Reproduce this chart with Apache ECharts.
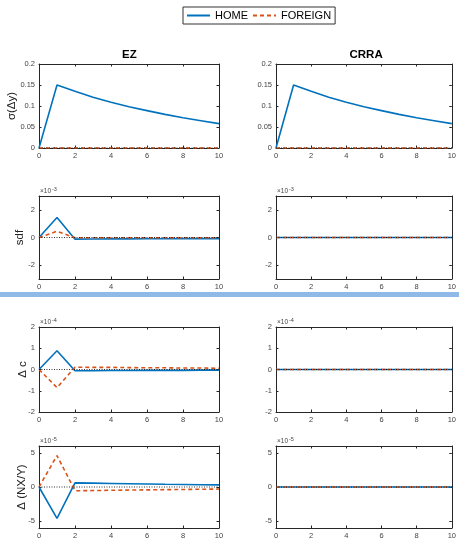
<!DOCTYPE html>
<html><head><meta charset="utf-8">
<script src="https://cdn.jsdelivr.net/npm/echarts@6/dist/echarts.min.js"></script>
<style>html,body{margin:0;padding:0;background:#fff}#c{width:459px;height:540px}</style>
</head><body><div id="c"></div>
<script>
// horizon
const t = [0,1,2,3,4,5,6,7,8,9,10];
// row 1: sigma(Delta y)
const sigmaHomeEZ    = [0,0.150,0.135,0.121,0.109,0.098,0.089,0.080,0.072,0.065,0.058];
const sigmaForeignEZ = [0,0,0,0,0,0,0,0,0,0,0];
const sigmaHomeCRRA    = [0,0.150,0.135,0.121,0.109,0.098,0.089,0.080,0.072,0.065,0.058];
const sigmaForeignCRRA = [0,0,0,0,0,0,0,0,0,0,0];
// row 2: sdf (x 10^-3)
const sdfHomeEZ    = [0,1.45,-0.12,-0.11,-0.10,-0.10,-0.09,-0.09,-0.08,-0.08,-0.08];
const sdfForeignEZ = [0,0.45,-0.02,-0.02,-0.02,-0.02,-0.02,-0.02,-0.02,-0.02,-0.02];
const sdfHomeCRRA    = [0,0,0,0,0,0,0,0,0,0,0];
const sdfForeignCRRA = [0,0,0,0,0,0,0,0,0,0,0];
// row 3: Delta c (x 10^-4)
const dcHomeEZ    = [0,0.88,-0.06,-0.06,-0.05,-0.05,-0.04,-0.04,-0.04,-0.03,-0.03];
const dcForeignEZ = [0,-0.85,0.11,0.10,0.10,0.09,0.08,0.08,0.07,0.07,0.06];
const dcHomeCRRA    = [0,0,0,0,0,0,0,0,0,0,0];
const dcForeignCRRA = [0,0,0,0,0,0,0,0,0,0,0];
// row 4: Delta (NX/Y) (x 10^-5)
const nxHomeEZ    = [0,-4.6,0.60,0.56,0.52,0.48,0.44,0.40,0.37,0.34,0.31];
const nxForeignEZ = [0,4.6,-0.55,-0.52,-0.48,-0.45,-0.42,-0.39,-0.36,-0.33,-0.30];
const nxHomeCRRA    = [0,0,0,0,0,0,0,0,0,0,0];
const nxForeignCRRA = [0,0,0,0,0,0,0,0,0,0,0];
const zeroLine = [0,0,0,0,0,0,0,0,0,0,0];

const colTitles = ['EZ','CRRA'];
const seriesNames = ['HOME','FOREIGN'];
const rowNames = ['σ(Δy)','sdf','Δ c','Δ (NX/Y)'];
const rowExp = [null,'-3','-4','-5'];
const rowMin = [0,-3,-2,-6];
const rowMax = [0.2,3,2,6];
const rowTicks = [[0,0.05,0.1,0.15,0.2],[-2,0,2],[-2,-1,0,1,2],[-5,0,5]];
const xTicks = [0,2,4,6,8,10];
const homeData = [[sigmaHomeEZ,sigmaHomeCRRA],[sdfHomeEZ,sdfHomeCRRA],[dcHomeEZ,dcHomeCRRA],[nxHomeEZ,nxHomeCRRA]];
const foreignData = [[sigmaForeignEZ,sigmaForeignCRRA],[sdfForeignEZ,sdfForeignCRRA],[dcForeignEZ,dcForeignCRRA],[nxForeignEZ,nxForeignCRRA]];

// layout
const colLeft = [39, 276], colWidth = [180, 177];
const rowTop = [64, 196, 327, 446], rowHeight = [84, 83, 85, 84];
const nameGaps = [21, 13, 10, 11];

const FONT = 'Liberation Sans, Arial, Helvetica, sans-serif';
const AX = '#262626', LAB = '#444';
const HOME_C = '#0072BD', FOR_C = '#D95319';

const grids=[], xAxes=[], yAxes=[], series=[], graphics=[];
const pair = arr => arr.map((v,i)=>[t[i], v]);

for (let r=0;r<4;r++){
  for (let c=0;c<2;c++){
    const g = grids.length;
    grids.push({left:colLeft[c], top:rowTop[r], width:colWidth[c], height:rowHeight[r], containLabel:false});
    const xb = xAxes.length;
    const xCommon = {gridIndex:g, type:'value', min:0, max:10,
      axisLine:{show:true, onZero:false, lineStyle:{color:AX, width:1}},
      splitLine:{show:false}};
    xAxes.push(Object.assign({}, xCommon, {position:'bottom',
      axisTick:{show:true, inside:true, length:2.5, customValues:xTicks, lineStyle:{color:AX}},
      axisLabel:{show:true, customValues:xTicks, fontSize:7.5, color:LAB, margin:4, fontFamily:FONT}}));
    xAxes.push(Object.assign({}, xCommon, {position:'top',
      axisTick:{show:true, inside:true, length:2.5, customValues:xTicks, lineStyle:{color:AX}},
      axisLabel:{show:false}}));
    const yb = yAxes.length;
    const yCommon = {gridIndex:g, type:'value', min:rowMin[r], max:rowMax[r],
      axisLine:{show:true, onZero:false, lineStyle:{color:AX, width:1}},
      splitLine:{show:false}};
    yAxes.push(Object.assign({}, yCommon, {position:'left',
      name: c===0 ? rowNames[r] : '', nameLocation:'middle', nameGap:nameGaps[r], nameMoveOverlap:false,
      nameTextStyle:{fontSize:11.5, color:'#222', fontFamily:FONT},
      axisTick:{show:true, inside:true, length:2.5, customValues:rowTicks[r], lineStyle:{color:AX}},
      axisLabel:{show:true, customValues:rowTicks[r], fontSize:7.5, color:LAB, margin:4, fontFamily:FONT}}));
    yAxes.push(Object.assign({}, yCommon, {position:'right',
      axisTick:{show:true, inside:true, length:2.5, customValues:rowTicks[r], lineStyle:{color:AX}},
      axisLabel:{show:false}}));
    series.push({name:seriesNames[0], type:'line', xAxisIndex:xb, yAxisIndex:yb, data:pair(homeData[r][c]),
      showSymbol:false, symbol:'none', lineStyle:{color:HOME_C, width:1.6}, itemStyle:{color:HOME_C}, z:3, animation:false});
    series.push({name:seriesNames[1], type:'line', xAxisIndex:xb, yAxisIndex:yb, data:pair(foreignData[r][c]),
      showSymbol:false, symbol:'none', lineStyle:{color:FOR_C, width:1.6, type:[4,3]}, itemStyle:{color:FOR_C}, z:4, animation:false});
    series.push({name:'zero', type:'line', xAxisIndex:xb, yAxisIndex:yb, data:pair(zeroLine),
      showSymbol:false, symbol:'none', lineStyle:{color:'#000', width:0.8, type:[1,1.5]}, z:5, animation:false, silent:true});
    if (rowExp[r]){
      graphics.push({type:'text', left:colLeft[c]+1, top:rowTop[r]-8,
        style:{text:'×10', fontSize:6.5, fill:LAB, fontFamily:FONT}});
      graphics.push({type:'text', left:colLeft[c]+13, top:rowTop[r]-10,
        style:{text:rowExp[r], fontSize:5.5, fill:LAB, fontFamily:FONT}});
    }
  }
}
// column titles
for (let c=0;c<2;c++){
  graphics.push({type:'text', left:colLeft[c]+colWidth[c]/2 - (c===0?7:15), top:49,
    style:{text:colTitles[c], fontSize:11.5, fontWeight:'bold', fill:'#000', fontFamily:FONT}});
}
// horizontal blue band
graphics.push({type:'rect', shape:{x:0, y:292, width:459, height:5}, style:{fill:'#8fb9e6'}, z:100});

const chart = echarts.init(document.getElementById('c'), null, {renderer:'canvas'});
chart.setOption({
  animation:false,
  backgroundColor:'#fff',
  legend:{show:true, data:seriesNames, left:183, top:7, itemWidth:23, itemHeight:8, itemGap:4,
    borderColor:'#333', borderWidth:1, padding:[3,4,3,3], borderRadius:0,
    itemStyle:{opacity:0},
    textStyle:{fontSize:11, color:'#000', fontFamily:FONT}},
  grid:grids, xAxis:xAxes, yAxis:yAxes, series:series, graphic:graphics
});
</script></body></html>
